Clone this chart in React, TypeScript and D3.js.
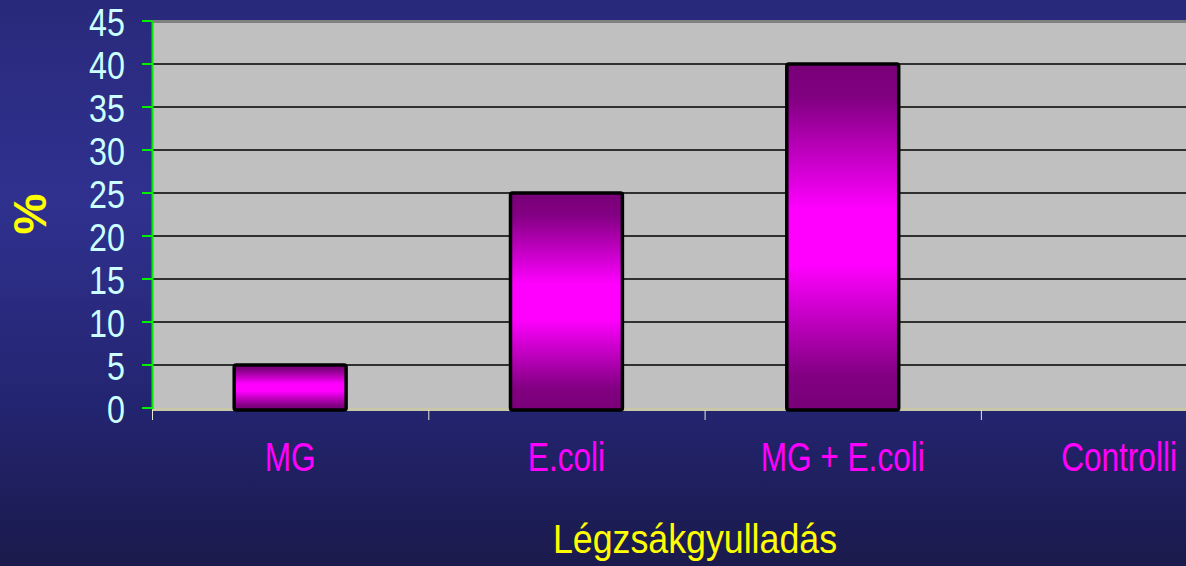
import React from "react";
import * as d3 from "d3";

const categories = ["MG", "E.coli", "MG + E.coli", "Controlli"];
const values = [5, 25, 40, 0];
const yTicks = [0, 5, 10, 15, 20, 25, 30, 35, 40, 45];
const yLabel = "%";
const xTitle = "Légzsákgyulladás";

const W = 1186;
const H = 566;
const left = 152;
const bandW = 276.3;
const top = 21;
const bottom = 408;

export default function App() {
  const x = d3
    .scaleBand<string>()
    .domain(categories)
    .range([left, left + bandW * categories.length])
    .padding(0);
  const y = d3.scaleLinear().domain([0, 45]).range([bottom, top]);
  const barW = x.bandwidth() * 0.405;
  const font = "'Liberation Sans', Arial, sans-serif";

  return (
    <svg
      width={W}
      height={H}
      style={{ position: "absolute", left: 0, top: 0, display: "block" }}
    >
      <defs>
        <linearGradient id="bg" x1="0" y1="0" x2="0" y2="1">
          <stop offset="0" stopColor="#29297b" />
          <stop offset="0.35" stopColor="#30318f" />
          <stop offset="0.7" stopColor="#242572" />
          <stop offset="1" stopColor="#1a1a4c" />
        </linearGradient>
        <linearGradient id="bar" x1="0" y1="0" x2="0" y2="1">
          <stop offset="0" stopColor="#780078" />
          <stop offset="0.1" stopColor="#820082" />
          <stop offset="0.42" stopColor="#ff00ff" />
          <stop offset="0.58" stopColor="#ff00ff" />
          <stop offset="0.9" stopColor="#820082" />
          <stop offset="1" stopColor="#780078" />
        </linearGradient>
      </defs>
      <rect x={0} y={0} width={W} height={H} fill="url(#bg)" />
      {/* plot area */}
      <rect x={left} y={top} width={W - left} height={bottom - top + 2} fill="#c0c0c0" />
      <rect x={left} y={top - 1} width={W - left} height={3} fill="#808080" />
      {/* grid lines */}
      {yTicks
        .filter((t) => t > 0 && t < 45)
        .map((t) => (
          <line
            key={"g" + t}
            x1={left}
            x2={W}
            y1={y(t)}
            y2={y(t)}
            stroke="#000"
            strokeWidth={1.5}
          />
        ))}
      {/* floor line */}
      <line x1={left} x2={W} y1={bottom + 1.5} y2={bottom + 1.5} stroke="#c8c8a8" strokeWidth={3} />
      {/* bars */}
      {categories.map((c, i) =>
        values[i] > 0 ? (
          <rect
            key={"b" + c}
            x={(x(c) as number) + x.bandwidth() / 2 - barW / 2}
            y={y(values[i])}
            width={barW}
            height={y(0) - y(values[i]) + 2}
            rx={2}
            fill="url(#bar)"
            stroke="#000"
            strokeWidth={3.5}
          />
        ) : null
      )}
      {/* x tick marks */}
      {categories.map((c) => (
        <line
          key={"xt" + c}
          x1={(x(c) as number) + 0.5}
          x2={(x(c) as number) + 0.5}
          y1={bottom + 2}
          y2={bottom + 12}
          stroke="#e8e8d8"
          strokeWidth={1}
        />
      ))}
      {/* y axis */}
      <line x1={left + 0.5} x2={left + 0.5} y1={top} y2={bottom + 1} stroke="#00ee00" strokeWidth={2} />
      {yTicks.map((t) => (
        <g key={"yt" + t}>
          <line x1={left - 10} x2={left} y1={y(t)} y2={y(t)} stroke="#00ee00" strokeWidth={2} />
          <text
            transform={`translate(125,${y(t) + 1.5}) scale(0.85,1)`}
            textAnchor="end"
            dominantBaseline="central"
            fontFamily={font}
            fontSize={38}
            fill="#ccffff"
          >
            {t}
          </text>
        </g>
      ))}
      {/* category labels */}
      {categories.map((c) => (
        <text
          key={"cl" + c}
          transform={`translate(${(x(c) as number) + x.bandwidth() / 2},471) scale(0.77,1)`}
          textAnchor="middle"
          fontFamily={font}
          fontSize={41}
          fill="#ff00ff"
        >
          {c}
        </text>
      ))}
      {/* axis titles */}
      <text
        transform="translate(695,553)"
        textAnchor="middle"
        fontFamily={font}
        fontSize={40}
        fill="#ffff00"
        textLength={284}
        lengthAdjust="spacingAndGlyphs"
      >
        {xTitle}
      </text>
      <text
        transform="translate(46,214) rotate(-90)"
        textAnchor="middle"
        fontFamily={font}
        fontSize={46}
        fontWeight="bold"
        fill="#ffff00"
      >
        {yLabel}
      </text>
    </svg>
  );
}
